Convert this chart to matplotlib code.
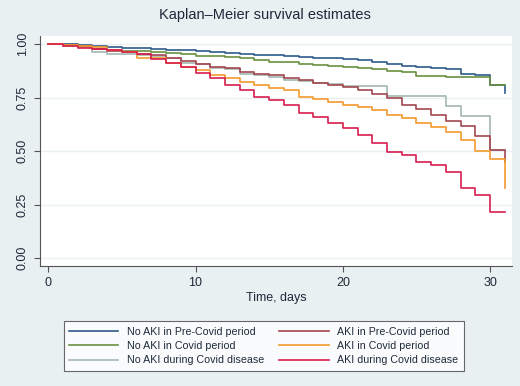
import matplotlib
matplotlib.use("Agg")
import matplotlib.pyplot as plt

# Kaplan-Meier survival at each whole day (0..31)
days = list(range(32))

no_aki_pre = [1.0, 1.0, 0.995, 0.99, 0.987, 0.984, 0.981, 0.978, 0.975, 0.971,
              0.967, 0.963, 0.96, 0.956, 0.952, 0.948, 0.944, 0.94, 0.937, 0.934,
              0.93, 0.925, 0.915, 0.907, 0.9, 0.893, 0.889, 0.884, 0.862, 0.857,
              0.81, 0.77]
no_aki_covid = [1.0, 0.995, 0.985, 0.978, 0.974, 0.97, 0.967, 0.963, 0.96, 0.955,
                0.947, 0.944, 0.94, 0.935, 0.928, 0.919, 0.915, 0.91, 0.905, 0.90,
                0.896, 0.89, 0.885, 0.875, 0.87, 0.852, 0.85, 0.848, 0.845, 0.845,
                0.81, 0.81]
no_aki_disease = [1.0, 0.99, 0.985, 0.965, 0.955, 0.953, 0.95, 0.947, 0.935, 0.912,
                  0.91, 0.89, 0.885, 0.863, 0.855, 0.848, 0.832, 0.83, 0.817, 0.812,
                  0.806, 0.805, 0.803, 0.758, 0.758, 0.758, 0.758, 0.71, 0.663, 0.663,
                  0.505, 0.505]
aki_pre = [1.0, 0.995, 0.99, 0.98, 0.97, 0.965, 0.955, 0.95, 0.935, 0.92,
           0.91, 0.895, 0.888, 0.872, 0.86, 0.855, 0.844, 0.835, 0.818, 0.808,
           0.8, 0.786, 0.766, 0.748, 0.718, 0.696, 0.67, 0.643, 0.618, 0.571,
           0.506, 0.45]
aki_covid = [1.0, 0.995, 0.99, 0.985, 0.975, 0.965, 0.937, 0.935, 0.911, 0.895,
             0.88, 0.857, 0.844, 0.825, 0.81, 0.794, 0.786, 0.755, 0.744, 0.732,
             0.716, 0.706, 0.693, 0.67, 0.654, 0.634, 0.615, 0.589, 0.553, 0.503,
             0.463, 0.327]
aki_disease = [1.0, 0.992, 0.984, 0.98, 0.973, 0.962, 0.953, 0.93, 0.914, 0.892,
               0.864, 0.841, 0.81, 0.786, 0.755, 0.74, 0.716, 0.678, 0.662, 0.631,
               0.607, 0.576, 0.537, 0.498, 0.483, 0.451, 0.436, 0.405, 0.327, 0.296,
               0.218, 0.218]

# legend order: first column then second column
series = [
    ("No AKI in Pre-Covid period", no_aki_pre, "#2e5b8a"),
    ("No AKI in Covid period", no_aki_covid, "#6a9040"),
    ("No AKI during Covid disease", no_aki_disease, "#a3b8b0"),
    ("AKI in Pre-Covid period", aki_pre, "#a3474f"),
    ("AKI in Covid period", aki_covid, "#f39a2f"),
    ("AKI during Covid disease", aki_disease, "#d81f4e"),
]

bg = "#e9f0f2"
txt = "#1e2a3a"
plt.rcParams["font.family"] = ["Liberation Sans", "DejaVu Sans"]

fig = plt.figure(figsize=(5.2, 3.86), dpi=100, facecolor=bg)
ax = fig.add_axes([0.077, 0.311, 0.908, 0.596])
ax.set_facecolor("white")

handles = []
for label, vals, col in series:
    h, = ax.step(days, vals, where="post", color=col, lw=1.2, label=label)
    handles.append(h)

ax.set_xlim(-0.56, 31.5)
ax.set_ylim(-0.036, 1.039)
ax.set_xticks([0, 10, 20, 30])
ax.set_yticks([0, 0.25, 0.5, 0.75, 1.0])
ax.set_yticklabels(["0.00", "0.25", "0.50", "0.75", "1.00"], rotation=90, va="center")
ax.tick_params(colors="#555555", labelcolor=txt, labelsize=9, length=4, pad=4)
ax.grid(axis="y", color=bg, lw=1.0)
ax.set_axisbelow(True)
for side in ["top", "right"]:
    ax.spines[side].set_visible(False)
for side in ["left", "bottom"]:
    ax.spines[side].set_color("#555555")

ax.set_xlabel("Time, days", fontsize=9, color=txt, labelpad=2)
fig.text(0.51, 0.962, "Kaplan\u2013Meier survival estimates", ha="center", va="center",
         fontsize=10.5, color=txt)

leg = fig.legend(handles=handles, ncol=2, loc="center",
                 bbox_to_anchor=(0.112, 0.023, 0.79, 0.161), mode="expand",
                 fontsize=7.7, handlelength=4.6, frameon=True, fancybox=False,
                 borderpad=0.5, labelspacing=0.4, columnspacing=1.5)
leg.get_frame().set_edgecolor("#444444")
leg.get_frame().set_linewidth(0.8)
for t in leg.get_texts():
    t.set_color(txt)

fig.savefig("out.png", dpi=100, facecolor=bg)
